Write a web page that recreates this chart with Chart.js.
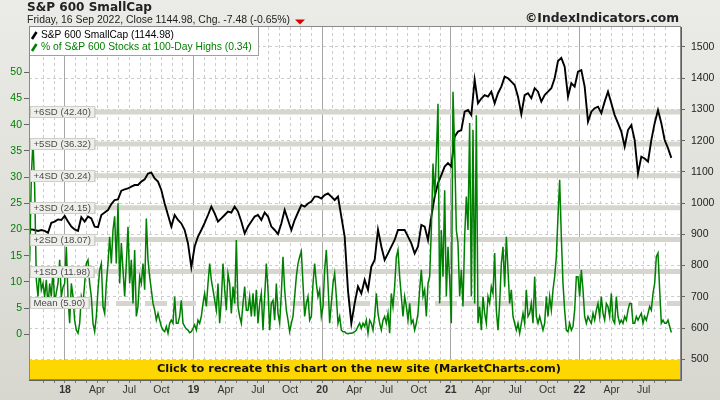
<!DOCTYPE html>
<html>
<head>
<meta charset="utf-8">
<script src="https://cdn.jsdelivr.net/npm/chart.js@4.4.1/dist/chart.umd.min.js"></script>
<style>
  html, body { margin: 0; padding: 0; background: #e2e2de; }
  canvas { display: block; }
</style>
</head>
<body>
<canvas id="chart" width="720" height="400"></canvas>
<script>
// sampling: decimal years, first sample late Sep 2017, fixed spacing
const START = 2017.7123;
const SP_STEP = 0.02592;   // ~9.5 days
const PCT_STEP = 0.01296;  // ~4.7 days

// S&P 600 SmallCap close (right axis)
const spValues = [
  914, 916, 914, 911, 914, 911, 905, 937, 941, 948, 946, 959, 941, 925, 916, 911, 955,
  941, 957, 951, 925, 923, 962, 970, 978, 997, 1010, 1012, 1040, 1044, 1047, 1053, 1058,
  1058, 1069, 1076, 1095, 1098, 1079, 1069, 1042, 999, 962, 925, 962, 946, 935, 914, 871, 795,
  861, 893, 914, 937, 962, 989, 967, 941, 951, 962, 973, 970, 989, 973, 941, 903,
  925, 941, 957, 962, 946, 970, 957, 925, 914, 901, 935, 978, 946, 914, 946, 970, 994,
  989, 999, 1005, 1021, 1021, 1015, 1026, 1031, 1021, 1010, 1021, 957, 893, 720, 615, 679,
  733, 711, 754, 722, 797, 818, 915, 861, 818, 839, 861, 882, 914, 914, 914, 893, 871,
  839, 861, 930, 925, 882, 957, 1021, 1064, 1090, 1117, 1128, 1117, 1213, 1229, 1234, 1293,
  1298, 1282, 1395, 1320, 1335, 1346, 1341, 1357, 1320, 1352, 1373, 1405, 1400, 1389, 1378, 1341, 1285,
  1346, 1352, 1336, 1368, 1357, 1325, 1346, 1357, 1368, 1400, 1455, 1465, 1437, 1341, 1384, 1373,
  1421, 1426, 1373, 1261, 1293, 1304, 1309, 1288, 1325, 1357, 1320, 1282, 1256, 1229, 1181,
  1234, 1250, 1202, 1095, 1149, 1143, 1133, 1202, 1256, 1298, 1256, 1202, 1176, 1144.98
];

// % of S&P 600 stocks at 100-day highs (left axis)
const pctValues = [
  12, 14, 30, 37, 28, 10.4, 7.2, 12.3, 8.5, 9.7, 7.2, 10.4, 5.3, 9.7, 7.2, 12.3, 5.9, 8, 9.7, 14.2,
  7.2, 9, 9.7, 16.7, 7.2, 2.1, 9.7, 7.2, 2.7, 0.8, 0.2, 2.1, 7.2, 5.9, 9.7, 13.5, 14.2, 9.7, 7.2, 2.1,
  0.5, 3.4, 8.5, 12.3, 13.5, 5.3, 4, 9.7, 13.5, 18.6, 13.5, 19.9, 22.5, 13.5, 25, 9.7, 17.4, 12.3, 7.2, 13.5,
  20.5, 9.7, 14.2, 5.9, 16.1, 3.4,
  5.3, 11, 9.7, 13.5, 8.5, 22.1, 14.2, 11, 8.5, 5.9, 4.6, 2.7, 4, 2.7, 1.5, 0.8, 0.5, 1.5, 0.2, 2.1,
  2.7, 2.1, 7.2, 2.1, 2.1, 3.4, 6.5, 2.1, 1.5, 1, 0.8, 0.3, 0.5, 1.1, 1.8, 0.8, 2.7, 2.1, 3.4, 5.9,
  7.8, 5.3, 9.7, 13.5, 10.4, 8.5, 6.5, 4.6, 9.7, 2.1, 6.5, 13.5, 8.5, 4.6, 11.6, 9.7, 4, 9.1, 5.9, 18,
  5.3, 3.4, 2.1, 5.9, 9.1, 4.6,
  4.6, 7.2, 3.4, 7.8, 3.4, 8.5, 2.1, 5.9, 7.8, 0.8, 7.2, 13.5, 8.5, 0.8, 5.9, 6.5, 2.7, 9.7, 4, 2.1,
  7.8, 14.8, 8.5, 4.6, 2.7, 0.5, 2.1, 3.4, 7.2, 11, 13.5, 14.8, 15.8, 9.7, 3.4, 5.9, 7.2, 2.7, 3.4, 9.7,
  13.5, 9.7, 7.2, 8.5, 3.4, 5.3, 12.3, 16.1, 9.7, 2.1, 5.9, 9.7, 11.6, 7.2, 2.1, 3.4, 0.8, 0.5, 0.5, 0.2,
  0.1, 0.2, 0.2, 0.3, 0.5, 0.8,
  1.5, 2.1, 1.1, 2.1, 1.5, 2.7, 0.2, 2.7, 2.1, 0.8, 3.4, 7.8, 4, 2.1, 0.8, 2.7, 3.4, 2.1, 4, 0.2,
  7.8, 5.3, 9.1, 14.8, 16.1, 11, 7.2, 3.4, 7.2, 5.3, 2.7, 5.9, 2.1, 2.7, 0.8, 2.1, 4, 8.5, 12.3, 7.2,
  8.5, 3.4, 9.7, 11, 19.9, 32.6, 26.3, 33.9, 44, 5.9, 19.9, 11, 27.5, 7.2, 16.7, 10.4, 2.1, 46.3, 35.2, 19.9,
  17.4, 7.2, 12.3, 5.3, 18.6, 26.3,
  19.9, 40.3, 7.2, 39, 5.9, 41.8, 2.1, 5.3, 0.8, 7.2, 4, 2.1, 7.2, 5.9, 9.1, 7.8, 15.5, 4.6, 0.8, 5.9,
  13.5, 16.7, 9.1, 18.6, 12.3, 5.9, 8.5, 3.4, 2.1, 0.8, 2.1, 0.2, 2.1, 4, 2.1, 8.5, 3.4, 4, 5.9, 2.1,
  11, 3.4, 2.1, 3.4, 2.1, 0.8, 2.1, 7.2, 3.4, 7.2, 4.6, 8.5, 11, 14.8, 22.5, 29.5, 18.6, 9.7, 4.6, 0.8,
  0.5, 2.1, 0.8, 1.5, 4.6, 11,
  11, 7.2, 12.3, 8.5, 3.4, 2.1, 3.4, 2.7, 2.1, 4, 2.7, 4.6, 5.9, 3.4, 7.2, 4, 2.7, 5.9, 5.3, 3.4,
  7.8, 2.7, 2.1, 7.2, 3.4, 2.1, 2.7, 2.1, 3.4, 2.7, 4.6, 5.9, 5.9, 2.1, 2.1, 3.4, 2.7, 3.4, 4, 2.1,
  3.4, 2.7, 4, 5.3, 4.6, 7.8, 9.7, 14.8, 15.5, 8.5, 2.1, 2.7, 2.1, 2.1, 2.7, 1.5, 0.34
];

const sdLevels = [42.40, 36.32, 30.24, 24.15, 18.07, 11.98, 5.90];
const sdNames = ['+6SD', '+5SD', '+4SD', '+3SD', '+2SD', '+1SD', 'Mean'];

const leftTicks = [0, 5, 10, 15, 20, 25, 30, 35, 40, 45, 50];
const rightTicks = [500, 600, 700, 800, 900, 1000, 1100, 1200, 1300, 1400, 1500];
const yearLabels = { 2018: '18', 2019: '19', 2020: '20', 2021: '21', 2022: '22' };
const quarterLabels = { 3: 'Apr', 6: 'Jul', 9: 'Oct' };

const X_MIN = 2017.7201, X_MAX = 2022.7823;
const FONT = "'Liberation Sans', Arial, sans-serif";
const BOLD = "'DejaVu Sans', Verdana, sans-serif";

// month gridlines Nov 2017 .. Sep 2022
const monthTicks = [];
for (let m = 2017 * 12 + 10; m <= 2022 * 12 + 8; m++) monthTicks.push(m / 12);

const monthOf = (v) => ((Math.round(v * 12) % 12) + 12) % 12;
const isYear = (v) => monthOf(v) === 0;

function tickLabel(v) {
  const m = monthOf(v);
  if (m === 0) return yearLabels[Math.round(v)] || '';
  return quarterLabels[m] || '';
}

function fitText(ctx, text, x, y, width, font, align) {
  ctx.font = font.replace('{s}', '20');
  const size = 20 * width / ctx.measureText(text).width;
  ctx.font = font.replace('{s}', size.toFixed(2));
  ctx.textAlign = align || 'left';
  ctx.textBaseline = 'middle';
  ctx.fillText(text, x, y);
}

const decor = {
  id: 'decor',
  beforeDraw(chart) {
    const { ctx, chartArea: a } = chart;
    const g = ctx.createLinearGradient(0, 0, 0, 400);
    g.addColorStop(0, '#ebebe7');
    g.addColorStop(1, '#d7d7d0');
    ctx.save();
    ctx.fillStyle = g;
    ctx.fillRect(0, 0, 720, 400);
    ctx.fillStyle = '#fff';
    ctx.fillRect(a.left, a.top, a.right - a.left, a.bottom - a.top);
    ctx.restore();
  },
  afterDatasetsDraw(chart) {
    const { ctx } = chart;
    const y1 = chart.scales.y1;
    ctx.save();
    // SD labels
    ctx.font = `9.6px ${FONT}`;
    sdLevels.forEach((lvl, i) => {
      const text = `${sdNames[i]} (${lvl.toFixed(2)})`;
      const y = Math.round(y1.getPixelForValue(lvl));
      const w = ctx.measureText(text).width + 6;
      ctx.fillStyle = '#c2c2ba';
      ctx.fillRect(32, y - 4, w, 10);
      ctx.fillStyle = '#eeeeea';
      ctx.fillRect(31, y - 5, w, 10);
      ctx.strokeStyle = '#cfcfc8';
      ctx.lineWidth = 1;
      ctx.strokeRect(30.5, y - 5.5, w + 1, 11);
      ctx.fillStyle = '#4a4a4a';
      ctx.textAlign = 'left';
      ctx.textBaseline = 'middle';
      ctx.fillText(text, 33.5, y + 0.5);
    });
    // legend box
    ctx.fillStyle = '#fff';
    ctx.fillRect(29, 27, 229, 28);
    ctx.strokeStyle = '#a0a0a0';
    ctx.strokeRect(29.5, 26.5, 229, 29);
    ctx.lineWidth = 2.6;
    ctx.lineCap = 'butt';
    ctx.strokeStyle = '#000';
    ctx.beginPath(); ctx.moveTo(32, 39); ctx.lineTo(36.5, 32); ctx.stroke();
    ctx.strokeStyle = '#008000';
    ctx.beginPath(); ctx.moveTo(32, 51); ctx.lineTo(36.5, 44); ctx.stroke();
    ctx.fillStyle = '#000';
    fitText(ctx, 'S&P 600 SmallCap (1144.98)', 41, 35.5, 133, `{s}px ${FONT}`);
    ctx.fillStyle = '#008000';
    fitText(ctx, '% of S&P 600 Stocks at 100-Day Highs (0.34)', 41, 47.5, 211, `{s}px ${FONT}`);
    ctx.restore();
  },
  afterDraw(chart) {
    const { ctx, chartArea: a } = chart;
    ctx.save();
    // banner
    ctx.fillStyle = '#ffd700';
    ctx.fillRect(a.left, 360, a.right - a.left, a.bottom - 360);
    ctx.fillStyle = '#111';
    fitText(ctx, 'Click to recreate this chart on the new site (MarketCharts.com)', 359, 369.5, 404, `bold {s}px ${BOLD}`, 'center');
    // plot frame
    ctx.strokeStyle = '#8a8a8a';
    ctx.lineWidth = 1;
    ctx.strokeRect(a.left + 0.5, a.top - 0.5, a.right - a.left, a.bottom - a.top + 1);
    ctx.strokeStyle = '#606060';
    ctx.beginPath();
    ctx.moveTo(a.right + 1.5, a.top); ctx.lineTo(a.right + 1.5, a.bottom + 1.5);
    ctx.lineTo(a.left, a.bottom + 1.5);
    ctx.stroke();
    // header
    ctx.fillStyle = '#222';
    fitText(ctx, 'S&P 600 SmallCap', 27, 8, 125, `bold {s}px ${BOLD}`);
    fitText(ctx, 'Friday, 16 Sep 2022, Close 1144.98, Chg. -7.48 (-0.65%)', 27, 20, 263, `{s}px ${FONT}`);
    fitText(ctx, '\u00A9IndexIndicators.com', 679, 19, 154, `bold {s}px ${BOLD}`, 'right');
    ctx.fillStyle = '#dd0000';
    ctx.beginPath();
    ctx.moveTo(295, 19.5); ctx.lineTo(305, 19.5); ctx.lineTo(300, 24.5); ctx.closePath();
    ctx.fill();
    ctx.restore();
  }
};

const bandSets = sdLevels.map((lvl, i) => ({
  data: [{ x: X_MIN, y: lvl }, { x: X_MAX, y: lvl }],
  yAxisID: 'y1',
  borderColor: '#d6d6ce',
  borderWidth: 5,
  borderDash: sdNames[i] === 'Mean' ? [22, 7] : [],
  pointRadius: 0,
  order: 10
}));

new Chart(document.getElementById('chart'), {
  type: 'line',
  data: {
    datasets: [
      ...bandSets,
      {
        label: 'S&P 600 SmallCap',
        data: spValues.map((v, i) => ({ x: START + i * SP_STEP, y: v })),
        yAxisID: 'y',
        borderColor: '#000',
        borderWidth: 1.9,
        pointRadius: 0,
        tension: 0,
        order: 2
      },
      {
        label: '% of S&P 600 Stocks at 100-Day Highs',
        data: pctValues.map((v, i) => ({ x: START + i * PCT_STEP, y: v })),
        yAxisID: 'y1',
        borderColor: '#008000',
        borderWidth: 1.5,
        pointRadius: 0,
        tension: 0,
        order: 1
      }
    ]
  },
  options: {
    responsive: false,
    animation: false,
    devicePixelRatio: 1,
    layout: { padding: { top: 27, left: 0, right: 0, bottom: 0 } },
    plugins: { legend: { display: false }, tooltip: { enabled: false } },
    scales: {
      x: {
        type: 'linear',
        min: X_MIN,
        max: X_MAX,
        afterBuildTicks: (s) => { s.ticks = monthTicks.map((v) => ({ value: v })); },
        afterFit: (s) => { s.height = 21; },
        ticks: {
          autoSkip: false,
          maxRotation: 0,
          padding: 1,
          color: '#333',
          font: (c) => ({ family: FONT, size: 10.5, weight: c.tick && isYear(c.tick.value) ? 'bold' : 'normal' }),
          callback: (v) => tickLabel(v)
        },
        grid: {
          color: (c) => (c.tick && isYear(c.tick.value) ? '#a6a6a6' : '#cccccc'),
          tickColor: '#777',
          tickLength: 4
        },
        border: { display: false, dash: (c) => (c.tick && isYear(c.tick.value) ? [] : [3, 3]) }
      },
      y: {
        type: 'linear',
        position: 'right',
        min: 436.9,
        max: 1564,
        afterBuildTicks: (s) => { s.ticks = rightTicks.map((v) => ({ value: v })); },
        afterFit: (s) => { s.width = 40; },
        ticks: { callback: (v) => String(v), color: '#222', padding: 6, font: { family: FONT, size: 10.5 } },
        grid: { color: '#cccccc', tickColor: '#666', tickLength: 5 },
        border: { display: false, dash: [3, 3] }
      },
      y1: {
        type: 'linear',
        position: 'left',
        min: -8.53,
        max: 58.64,
        afterBuildTicks: (s) => { s.ticks = leftTicks.map((v) => ({ value: v })); },
        afterFit: (s) => { s.width = 29; },
        ticks: { color: '#008000', padding: 2, font: { family: FONT, size: 10.5 } },
        grid: { drawOnChartArea: false, tickColor: '#666', tickLength: 5 },
        border: { display: false }
      }
    }
  },
  plugins: [decor]
});
</script>
</body>
</html>
